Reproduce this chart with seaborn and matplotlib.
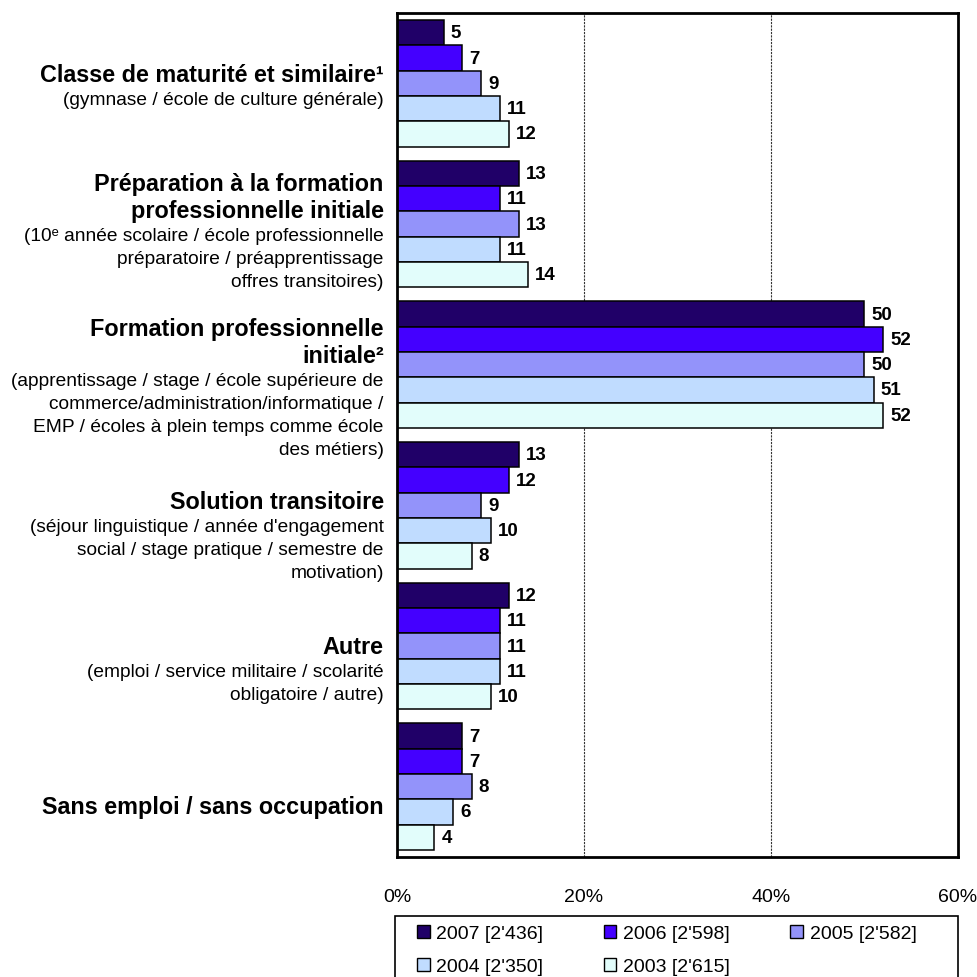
import matplotlib
matplotlib.use("Agg")
import matplotlib.pyplot as plt
import matplotlib.transforms as mtransforms
from matplotlib.patches import Patch, Rectangle
import seaborn as sns
import pandas as pd

# ---------------- data ----------------
categories = [
    "Classe de maturité et similaire",
    "Préparation à la formation professionnelle initiale",
    "Formation professionnelle initiale",
    "Solution transitoire",
    "Autre",
    "Sans emploi / sans occupation",
]
years = ["2007 [2'436]", "2006 [2'598]", "2005 [2'582]", "2004 [2'350]", "2003 [2'615]"]
v2007 = [5, 13, 50, 13, 12, 7]
v2006 = [7, 11, 52, 12, 11, 7]
v2005 = [9, 13, 50, 9, 11, 8]
v2004 = [11, 11, 51, 10, 11, 6]
v2003 = [12, 14, 52, 8, 10, 4]
series = [v2007, v2006, v2005, v2004, v2003]

# category label text: (bold lines, regular lines)
label_bold = [
    ["Classe de maturité et similaire\u00b9"],
    ["Préparation à la formation", "professionnelle initiale"],
    ["Formation professionnelle", "initiale\u00b2"],
    ["Solution transitoire"],
    ["Autre"],
    ["Sans emploi / sans occupation"],
]
label_regular = [
    ["(gymnase / école de culture générale)"],
    ["(10\u1d49 année scolaire / école professionnelle",
     "préparatoire / préapprentissage",
     "offres transitoires)"],
    ["(apprentissage / stage / école supérieure de",
     "commerce/administration/informatique /",
     "EMP / écoles à plein temps comme école",
     "des métiers)"],
    ["(séjour linguistique / année d'engagement",
     "social / stage pratique / semestre de",
     "motivation)"],
    ["(emploi / service militaire / scolarité",
     "obligatoire / autre)"],
    [],
]
xticks = [0, 20, 40, 60]
xtick_labels = ["0%", "20%", "40%", "60%"]

# ---------------- style ----------------
colors = ["#200068", "#4400FF", "#9393FA", "#C0DCFF", "#E2FDFB"]
FONT = ["Liberation Sans", "DejaVu Sans"]

sns.set_theme(style="white")
plt.rcParams["font.family"] = FONT
plt.rcParams["text.color"] = "black"
plt.rcParams["axes.labelcolor"] = "black"
plt.rcParams["xtick.color"] = "black"
plt.rcParams["ytick.color"] = "black"

rows = []
for yname, vals in zip(years, series):
    for c, v in zip(categories, vals):
        rows.append({"cat": c, "year": yname, "val": v})
df = pd.DataFrame(rows)

fig = plt.figure(figsize=(9.78, 9.78), dpi=100)
W = H = 978.0
ax = fig.add_axes([397 / W, 1 - 858 / H, (958 - 397) / W, (858 - 14) / H])

sns.barplot(data=df, y="cat", x="val", hue="year", order=categories,
            hue_order=years, palette=colors, orient="h", width=0.9,
            edgecolor="black", linewidth=1.1, saturation=1, legend=False,
            ax=ax)

ax.set_xlim(0, 60)
ax.set_ylim(len(categories) - 0.5, -0.5)
ax.set_xticks(xticks)
ax.set_xticklabels(xtick_labels, fontsize=14, family=FONT, color="black")
ax.tick_params(axis="x", length=0, pad=22)
ax.tick_params(axis="y", left=False, labelleft=False)
ax.set_xlabel("")
ax.set_ylabel("")
for s in ax.spines.values():
    s.set_visible(True)
    s.set_color("black")
    s.set_linewidth(2.0)
for xv in [20, 40]:
    ax.axvline(xv, color="#333333", linewidth=0.8, linestyle=(0, (2, 1)), zorder=0)

for cont, vals in zip(ax.containers, series):
    ax.bar_label(cont, labels=[str(v) for v in vals], padding=5, color="black",
                 fontsize=13.5, fontweight="bold", family=FONT)

# category labels
first_line_offset = [-0.066, -0.285, -0.254, -0.025, 0.006, 0.143]
trans = mtransforms.blended_transform_factory(ax.transAxes, ax.transData)
PX = 0.72  # points per pixel at dpi 100
for i in range(len(categories)):
    y0 = i + first_line_offset[i]
    off = 0.0
    prev = None
    for ln in label_bold[i]:
        if prev is not None:
            off += 27
        ax.annotate(ln, xy=(0, y0), xycoords=trans, xytext=(-9.5, -off * PX),
                    textcoords="offset points", ha="right", va="center",
                    fontsize=16.8, fontweight="bold", family=FONT, color="black")
        prev = "b"
    for ln in label_regular[i]:
        off += 25 if prev == "b" else 23
        ax.annotate(ln, xy=(0, y0), xycoords=trans, xytext=(-9.5, -off * PX),
                    textcoords="offset points", ha="right", va="center",
                    fontsize=13.8, family=FONT, color="black")
        prev = "r"

# legend (row-major order: matplotlib fills columns first)
order = [0, 3, 1, 4, 2]
handles = [Patch(facecolor=colors[k], edgecolor="black", linewidth=1.0) for k in order]
labels = [years[k] for k in order]
leg = fig.legend(handles, labels, loc="upper left",
                 bbox_to_anchor=(417 / W, 1 - 926 / H), ncol=3, frameon=False,
                 handlelength=0.65, handleheight=0.65,
                 handletextpad=0.35, columnspacing=3.1, labelspacing=0.8,
                 borderpad=0, borderaxespad=0, prop={"family": FONT, "size": 14})
for t in leg.get_texts():
    t.set_color("black")
fig.patches.append(Rectangle((395 / W, 1 - 990 / H), (958 - 395) / W, (990 - 917) / H,
                             transform=fig.transFigure, facecolor="none",
                             edgecolor="black", linewidth=1.2))

fig.savefig("out.png", dpi=100)
